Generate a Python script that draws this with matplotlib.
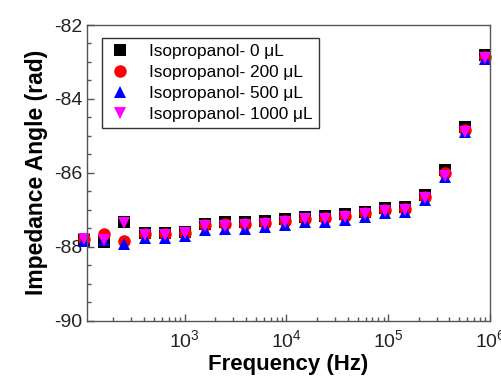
import matplotlib
matplotlib.use("Agg")
import matplotlib.pyplot as plt
from matplotlib.ticker import MultipleLocator, LogLocator, NullFormatter

plt.rcParams['font.family'] = ['Liberation Sans', 'DejaVu Sans']
plt.rcParams['mathtext.fontset'] = 'custom'
plt.rcParams['mathtext.rm'] = 'Liberation Sans'
plt.rcParams['axes.unicode_minus'] = False

freq = [103.5, 163, 256, 404, 635, 1000, 1574, 2477, 3899, 6138, 9661, 15210,
        23930, 37670, 59290, 93330, 146900, 231200, 363900, 572800, 901600]

angle_0 = [-87.82, -87.87, -87.32, -87.63, -87.63, -87.60, -87.38, -87.33, -87.33,
           -87.30, -87.25, -87.20, -87.17, -87.12, -87.06, -86.95, -86.92, -86.60,
           -85.92, -84.76, -82.81]
angle_200 = [-87.80, -87.65, -87.86, -87.66, -87.66, -87.62, -87.42, -87.40, -87.40,
             -87.36, -87.30, -87.24, -87.22, -87.17, -87.10, -87.00, -86.97, -86.65,
             -86.00, -84.84, -82.87]
angle_500 = [-87.85, -87.82, -87.92, -87.76, -87.76, -87.70, -87.55, -87.52, -87.52,
             -87.47, -87.41, -87.33, -87.32, -87.28, -87.20, -87.09, -87.06, -86.73,
             -86.12, -84.91, -82.93]
angle_1000 = [-87.78, -87.82, -87.35, -87.68, -87.68, -87.63, -87.44, -87.44, -87.42,
              -87.38, -87.33, -87.25, -87.24, -87.20, -87.11, -87.03, -87.00, -86.68,
              -86.08, -84.89, -82.90]

labels = ['Isopropanol- 0 \u03bcL', 'Isopropanol- 200 \u03bcL',
          'Isopropanol- 500 \u03bcL', 'Isopropanol- 1000 \u03bcL']

fig = plt.figure(figsize=(5.01, 3.87), dpi=100)
ax = fig.add_axes([0.1737, 0.1718, 0.8043, 0.7636])

series = [
    (angle_0, 's', 'black', 8),
    (angle_200, 'o', 'red', 9),
    (angle_500, '^', 'blue', 9),
    (angle_1000, 'v', 'magenta', 9),
]
for (vals, mk, col, ms), lab in zip(series, labels):
    ax.plot(freq, vals, linestyle='none', marker=mk, color=col, markersize=ms,
            markeredgewidth=0, label=lab, clip_on=False)

ax.set_xscale('log')
ax.set_xlim(110, 1e6)
ax.set_ylim(-90, -82)
ax.yaxis.set_major_locator(MultipleLocator(2))
ax.yaxis.set_minor_locator(MultipleLocator(0.5))
ax.xaxis.set_major_locator(LogLocator(base=10, numticks=10))
ax.xaxis.set_minor_locator(LogLocator(base=10, subs=range(2, 10), numticks=20))
ax.xaxis.set_minor_formatter(NullFormatter())

spine_col = '#555555'
for s in ax.spines.values():
    s.set_color(spine_col)
    s.set_linewidth(1.0)
ax.tick_params(which='both', direction='in', top=False, right=False,
               color=spine_col, labelsize=14, labelcolor='#222222')
ax.tick_params(which='major', length=5, width=1)
ax.tick_params(which='minor', length=3, width=1)
ax.tick_params(axis='x', pad=6)

ax.set_xlabel('Frequency (Hz)', fontsize=16, fontweight='bold', labelpad=2)
ax.set_ylabel('Impedance Angle (rad)', fontsize=16.5, fontweight='bold', labelpad=4)

leg = ax.legend(loc='upper left', bbox_to_anchor=(0.037, 0.956), fontsize=12.4,
                frameon=True, fancybox=False, framealpha=1, edgecolor='#333333',
                handlelength=1.4, handletextpad=1.0, labelspacing=0.35,
                borderpad=0.35, borderaxespad=0, numpoints=1)
leg.get_frame().set_linewidth(1.0)

fig.savefig('out.png', dpi=100)
